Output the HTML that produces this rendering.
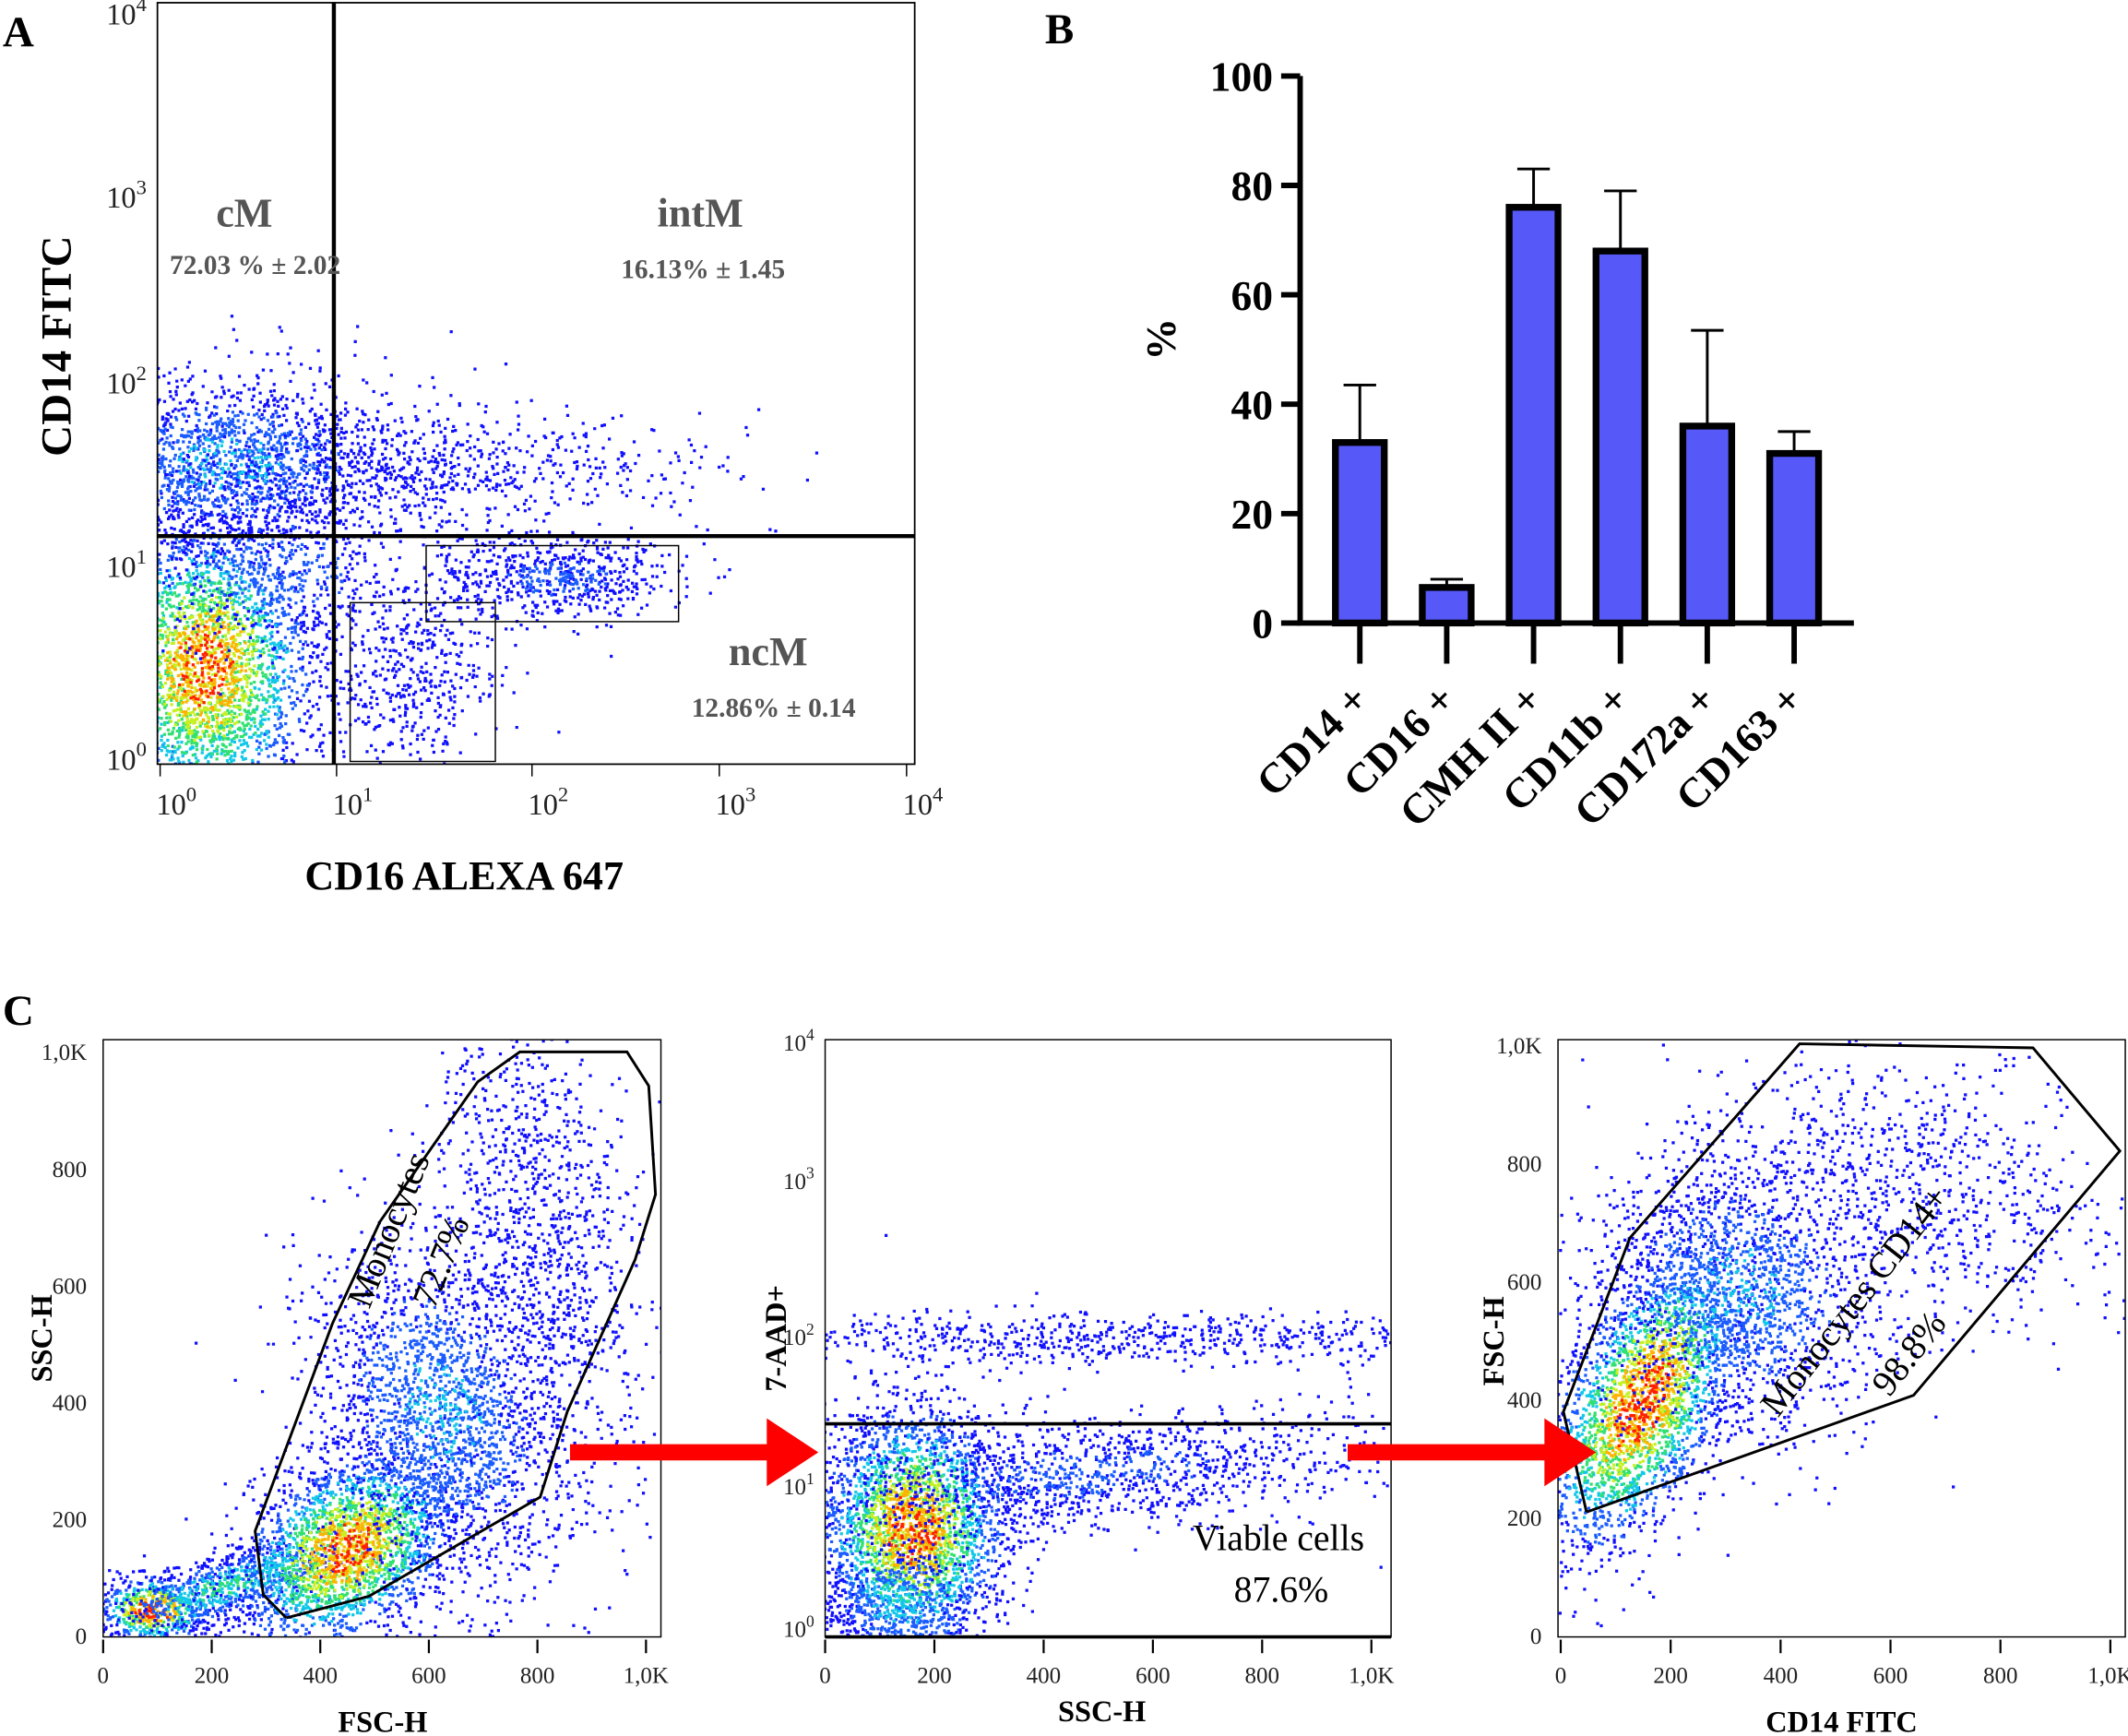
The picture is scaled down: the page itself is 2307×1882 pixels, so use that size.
<!DOCTYPE html>
<html><head><meta charset="utf-8"><style>
html,body{margin:0;padding:0;background:#fff;}
svg{display:block;}
text{font-family:"Liberation Serif",serif;}
</style></head><body>
<svg id="fig" width="2307" height="1882" viewBox="0 0 1568 1279" preserveAspectRatio="none" xmlns="http://www.w3.org/2000/svg">
<defs>
<clipPath id="cA"><rect x="116" y="2" width="558" height="561"/></clipPath>
<clipPath id="c1"><rect x="76" y="766" width="411" height="440"/></clipPath>
<clipPath id="c2"><rect x="608" y="766" width="417" height="440"/></clipPath>
<clipPath id="c3"><rect x="1148" y="766" width="418" height="440"/></clipPath>
</defs>
<g id="dotsA" clip-path="url(#cA)"></g>
<g id="dots1" clip-path="url(#c1)"></g>
<g id="dots2" clip-path="url(#c2)"></g>
<g id="dots3" clip-path="url(#c3)"></g>

<!-- Panel A -->
<text x="2" y="34" font-size="32" font-weight="bold">A</text>
<rect x="116" y="2" width="558" height="561" fill="none" stroke="#000" stroke-width="1.2"/>
<line x1="246" y1="2" x2="246" y2="563" stroke="#000" stroke-width="3"/>
<line x1="116" y1="395" x2="674" y2="395" stroke="#000" stroke-width="3"/>
<rect x="314" y="402" width="186" height="56" fill="none" stroke="#000" stroke-width="1"/>
<rect x="258" y="444" width="107" height="117" fill="none" stroke="#000" stroke-width="1"/>
<g id="axA"></g>
<g fill="#555" font-weight="bold">
<text x="180" y="167" font-size="30" text-anchor="middle">cM</text>
<text x="188" y="202" font-size="20" text-anchor="middle">72.03 % ± 2.02</text>
<text x="516" y="167" font-size="30" text-anchor="middle">intM</text>
<text x="518" y="205" font-size="20" text-anchor="middle">16.13% ± 1.45</text>
<text x="566" y="490" font-size="30" text-anchor="middle">ncM</text>
<text x="570" y="528" font-size="20" text-anchor="middle">12.86% ± 0.14</text>
</g>
<text x="52" y="255" font-size="32" font-weight="bold" text-anchor="middle" transform="rotate(-90 52 255)">CD14 FITC</text>
<text x="342" y="655" font-size="30" font-weight="bold" text-anchor="middle">CD16 ALEXA 647</text>

<!-- Panel B -->
<text x="770" y="32" font-size="32" font-weight="bold">B</text>
<g id="barB"></g>

<!-- Panel C -->
<text x="2" y="755" font-size="32" font-weight="bold">C</text>
<rect x="76" y="766" width="411" height="440" fill="none" stroke="#000" stroke-width="1"/>
<rect x="608" y="766" width="417" height="440" fill="none" stroke="#000" stroke-width="1"/>
<rect x="1148" y="766" width="418" height="440" fill="none" stroke="#000" stroke-width="1"/>
<polyline points="211,1192 272,1176 398,1103 418,1040 468,928 483,880 478,800 462,775 383,775 352,797 280,900 245,975 188,1128 194,1175 211,1192" fill="none" stroke="#000" stroke-width="2"/>
<text x="0" y="0" font-size="27" transform="translate(272,965) rotate(-68)">Monocytes</text>
<text x="0" y="0" font-size="27" transform="translate(320,965) rotate(-68)">72.7%</text>
<line x1="608" y1="1049" x2="1025" y2="1049" stroke="#000" stroke-width="2.5"/>
<line x1="608" y1="1206" x2="1025" y2="1206" stroke="#000" stroke-width="2.5"/>
<text x="942" y="1142" font-size="27" text-anchor="middle">Viable cells</text>
<text x="944" y="1180" font-size="27" text-anchor="middle">87.6%</text>
<polyline points="1169,1114 1410,1028 1562,848 1498,772 1326,769 1201,912 1152,1040 1169,1114" fill="none" stroke="#000" stroke-width="2"/>
<text x="0" y="0" font-size="27" transform="translate(1310,1045) rotate(-52)">Monocytes CD14+</text>
<text x="0" y="0" font-size="27" transform="translate(1392,1030) rotate(-52)">98.8%</text>
<g id="axC"></g>
<polygon points="420,1064 565,1064 565,1045 603,1070 565,1095 565,1076 420,1076" fill="#f00"/>
<polygon points="993,1064 1138,1064 1138,1045 1176,1070 1138,1095 1138,1076 993,1076" fill="#f00"/>
<text x="38" y="986" font-size="22" font-weight="bold" text-anchor="middle" transform="rotate(-90 38 986)">SSC-H</text>
<text x="282" y="1276" font-size="22" font-weight="bold" text-anchor="middle">FSC-H</text>
<text x="579" y="986" font-size="22" font-weight="bold" text-anchor="middle" transform="rotate(-90 579 986)">7-AAD+</text>
<text x="812" y="1268" font-size="22" font-weight="bold" text-anchor="middle">SSC-H</text>
<text x="1108" y="988" font-size="22" font-weight="bold" text-anchor="middle" transform="rotate(-90 1108 988)">FSC-H</text>
<text x="1357" y="1276" font-size="22" font-weight="bold" text-anchor="middle">CD14 FITC</text>
</svg>
<script>
// ---------- Bar chart data ----------
const categories = ["CD14 +","CD16 +","CMH II +","CD11b +","CD172a +","CD163 +"];
const meanValues = [33, 6.5, 76, 68, 36, 31];
const errorTops = [43.5, 8, 83, 79, 53.5, 35];
const yTicks = [0, 20, 40, 60, 80, 100];

const NS = "http://www.w3.org/2000/svg";
function mk(tag, attrs, parent){const e=document.createElementNS(NS,tag);for(const k in attrs)e.setAttribute(k,attrs[k]);parent.appendChild(e);return e;}

(function(){
  const g=document.getElementById('barB');
  const x0=958, x1=1366, yBase=459, yTop=56;
  const yS=v=>yBase-(v/100)*(yBase-yTop);
  const xS=i=>1002+i*64;
  let ax=mk('line',{x1:x0,y1:yS(100),x2:x0,y2:yBase,stroke:'#000','stroke-width':4},g);
  
  
  let bx=mk('line',{x1:x0-2,y1:yBase,x2:x1,y2:yBase,stroke:'#000','stroke-width':4},g);
  
  
  yTicks.forEach(t=>{
    const tl=mk('line',{x1:x0-14,y1:yS(t),x2:x0,y2:yS(t),stroke:'#000','stroke-width':4},g);
    
    
    const tx=mk('text',{x:x0-20,y:yS(t)+11,'font-size':31,'font-weight':'bold','text-anchor':'end'},g);
    tx.textContent=t;
    
    
  });
  const yl=mk('text',{x:866,y:250,'font-size':31,'font-weight':'bold','text-anchor':'middle',transform:'rotate(-90 866 250)'},g);
  yl.textContent='%';
  
  
  categories.forEach((c,i)=>{
    const cx=xS(i);
    const el=mk('line',{x1:cx,y1:yS(errorTops[i]),x2:cx,y2:yS(meanValues[i]),stroke:'#000','stroke-width':2},g);
    
    
    const ec=mk('line',{x1:cx-12,y1:yS(errorTops[i]),x2:cx+12,y2:yS(errorTops[i]),stroke:'#000','stroke-width':2},g);
    
    
    const r=mk('rect',{x:cx-18,y:yS(meanValues[i]),width:36,height:yBase-yS(meanValues[i]),fill:'#5658f8',stroke:'#000','stroke-width':5},g);
    
    
    const tk=mk('line',{x1:cx,y1:yBase,x2:cx,y2:yBase+30,stroke:'#000','stroke-width':4},g);
    
    
    const lbl=mk('text',{x:0,y:0,'font-size':31,'font-weight':'bold','text-anchor':'end',transform:`translate(${cx+8},${yBase+58}) rotate(-45)`},g);
    lbl.textContent=c;
    
    
  });
})();

// ---------- Axes for flow plots ----------
function sup(g,x,y,exp,anchor,fs,name){
  const t=mk('text',{x:x,y:y,'font-size':fs,'text-anchor':anchor,fill:'#222'},g);
  t.innerHTML='10<tspan dy="-'+(fs*0.45)+'" font-size="'+(fs*0.7)+'">'+exp+'</tspan>';
  
  
}
(function(){
  const g=document.getElementById('axA');
  const xDec=[118,248,392,530,668], yDec=[557,415,280,143,8];
  xDec.forEach((x,i)=>{sup(g,x+12,600,i,'middle',22,'x-tick-label');
    const l=mk('line',{x1:x,y1:563,x2:x,y2:572,stroke:'#000','stroke-width':1},g);
    
    });
  yDec.forEach((y,i)=>{sup(g,108,y+10,i,'end',22,'y-tick-label');});
})();
(function(){
  const g=document.getElementById('axC');
  const lin=['0','200','400','600','800','1,0K'];
  function xt(x0,dx,y){lin.forEach((s,i)=>{const x=x0+i*dx;
    const l=mk('line',{x1:x,y1:y,x2:x,y2:y+10,stroke:'#000','stroke-width':1.5},g);
    
    
    const t=mk('text',{x:x,y:y+32,'font-size':17,'text-anchor':'middle',fill:'#222'},g);t.textContent=s;
    
    });}
  function yt(x,y0,dy){lin.forEach((s,i)=>{const y=y0-i*dy;
    const t=mk('text',{x:x-6,y:y+6,'font-size':17,'text-anchor':'end',fill:'#222'},g);t.textContent=s;
    
    });}
  xt(76,80,1208); yt(70,1205,86);
  xt(608,80.5,1208);
  xt(1150,81,1208); yt(1142,1205,87);
  [1200,1095,985,870,768].forEach((y,i)=>sup(g,600,y+6,i,'end',17,'y-tick-label'));
})();

// ---------- Flow cytometry event clouds (decorative density texture) ----------
let seed=12345;
function rnd(){seed=(seed*1103515245+12345)%2147483648;return seed/2147483648;}
function gauss(){let u=rnd()||1e-9,v=rnd();return Math.sqrt(-2*Math.log(u))*Math.cos(2*Math.PI*v);}
const palette=['#1010ff','#1a5cff','#10c8e8','#30e070','#c8f020','#ffb000','#ff2000'];
function cloud(gid,n,cx,cy,sx,sy,rot,heat){
  const g=document.getElementById(gid);
  const c=Math.cos(rot),sn=Math.sin(rot);
  const buckets=palette.map(()=>[]);
  for(let i=0;i<n;i++){
    const a=gauss(),b=gauss();
    const x=cx+a*sx*c-b*sy*sn, y=cy+a*sx*sn+b*sy*c;
    const d=heat*Math.exp(-(a*a+b*b)/2)*(0.7+0.5*rnd());
    let k=Math.min(6,Math.floor(d*7));if(k<0)k=0;
    buckets[k].push(`M${x.toFixed(1)} ${y.toFixed(1)}h2.2v2.2h-2.2z`);
  }
  buckets.forEach((b,k)=>{if(!b.length)return;
    const p=mk('path',{d:b.join(''),fill:palette[k]},g);
    
    });
}
// Panel A
cloud('dotsA',3000,150,490,40,55,0,0.85);
cloud('dotsA',1800,165,340,65,32,0,0.3);
cloud('dotsA',700,320,345,100,22,0,0.12);
cloud('dotsA',600,410,425,45,15,0,0.18);
cloud('dotsA',450,305,495,32,36,0,0.1);
cloud('dotsA',500,200,420,50,30,0,0.25);
// C1
cloud('dots1',600,112,1185,20,12,0,0.95);
cloud('dots1',700,165,1168,45,12,-0.3,0.45);
cloud('dots1',2400,255,1140,45,30,-0.6,0.85);
cloud('dots1',2000,325,1040,45,65,-0.35,0.3);
cloud('dots1',1100,395,900,35,90,-0.15,0.1);
// C2
cloud('dots2',2800,672,1125,35,45,0,0.85);
cloud('dots2',1300,800,1085,110,20,-0.08,0.18);
cloud('dots2',700,820,985,170,10,0,0.12);
cloud('dots2',500,660,1180,28,22,0,0.35);
// C3
cloud('dots3',2600,1210,1030,28,60,0.45,0.9);
cloud('dots3',1600,1280,950,55,50,0.55,0.3);
cloud('dots3',800,1410,870,75,45,0.3,0.1);
</script>
</body></html>
